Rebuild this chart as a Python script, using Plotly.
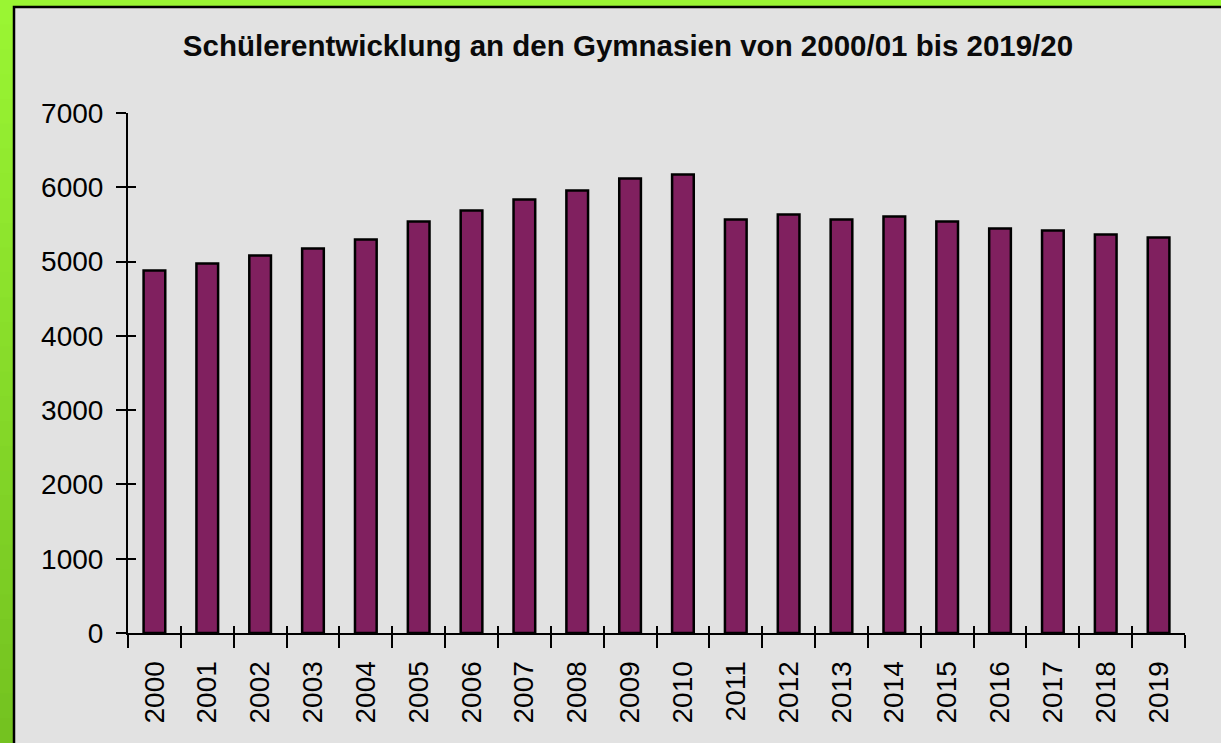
import plotly.graph_objects as go

years = [str(y) for y in range(2000, 2020)]
students = [4880, 4975, 5082, 5176, 5297, 5540, 5688, 5836, 5957, 6118,
            6172, 5567, 5634, 5567, 5607, 5540, 5446, 5419, 5365, 5325]
y_ticks = [0, 1000, 2000, 3000, 4000, 5000, 6000, 7000]
title_text = "Schülerentwicklung an den Gymnasien von 2000/01 bis 2019/20"

W, H = 1221, 743
L, R, T, B = 128, 36, 113, 110
PW, PH = W - L - R, H - T - B

def px(x):
    return (x - L) / PW

def py(y):
    return 1 - (y - T) / PH

FONT = "Liberation Sans, Arial, sans-serif"

fig = go.Figure()
fig.add_trace(go.Bar(
    x=years, y=students,
    marker=dict(color="#80205f", line=dict(color="black", width=2.5)),
    hoverinfo="x+y",
))
# helper trace for the inner tick marks (invisible)
fig.add_trace(go.Scatter(
    x=years, y=students, xaxis="x2", yaxis="y2",
    mode="markers", marker=dict(opacity=0), hoverinfo="skip", showlegend=False,
))

shapes = []
# green gradient background strips
top = (0x9a, 0xf5, 0x33)
bot = (0x74, 0xc2, 0x20)
n = 30
for i in range(n):
    t = i / (n - 1)
    c = tuple(int(round(top[k] + (bot[k] - top[k]) * t)) for k in range(3))
    y0 = H * i / n
    y1 = H * (i + 1) / n + 1
    shapes.append(dict(type="rect", xref="paper", yref="paper",
                       x0=px(-5), x1=px(W + 5), y0=py(y1), y1=py(y0),
                       fillcolor="rgb(%d,%d,%d)" % c, line=dict(width=0), layer="below"))
# gray panel with black frame
shapes.append(dict(type="rect", xref="paper", yref="paper",
                   x0=px(14), x1=px(W + 10), y0=py(H + 10), y1=py(7),
                   fillcolor="#e2e2e2", line=dict(color="black", width=2.5), layer="below"))

fig.update_layout(
    width=W, height=H,
    margin=dict(l=L, r=R, t=T, b=B, pad=0),
    paper_bgcolor="#8fe52e",
    plot_bgcolor="rgba(0,0,0,0)",
    showlegend=False,
    bargap=0.59,
    shapes=shapes,
    title=dict(text="<b>" + title_text + "</b>", x=628 / W, xanchor="center",
               y=1 - 46 / H, yanchor="middle",
               font=dict(family=FONT, size=29.5, color="#0a0a0a")),
    font=dict(family=FONT, color="black"),
    xaxis=dict(
        type="category", range=[-0.5, 19.5],
        showline=True, linecolor="black", linewidth=2,
        ticks="outside", ticklen=13, tickwidth=2, tickcolor="black",
        tickson="boundaries", tickangle=-90,
        tickfont=dict(family=FONT, size=28, color="black"),
        ticklabelstandoff=15,
        showgrid=False, zeroline=False,
    ),
    yaxis=dict(
        range=[0, 7000], tickvals=y_ticks,
        showline=True, linecolor="black", linewidth=2,
        ticks="outside", ticklen=10, tickwidth=2, tickcolor="black",
        tickfont=dict(family=FONT, size=28, color="black"),
        ticklabelstandoff=7,
        showgrid=False, zeroline=False,
    ),
    xaxis2=dict(
        type="category", range=[-0.5, 19.5], overlaying="x", anchor="y2",
        side="bottom", showline=False,
        ticks="inside", ticklen=7, tickwidth=2, tickcolor="black",
        tickson="boundaries", showticklabels=False, showgrid=False, zeroline=False,
    ),
    yaxis2=dict(
        range=[0, 7000], tickvals=y_ticks, overlaying="y", anchor="x2", side="left",
        showline=False,
        ticks="inside", ticklen=8, tickwidth=2, tickcolor="black",
        showticklabels=False, showgrid=False, zeroline=False,
    ),
)

fig.write_html("out.html",
               config={"displayModeBar": False},
               post_script="document.body.style.margin='0';document.body.style.overflow='hidden';")
